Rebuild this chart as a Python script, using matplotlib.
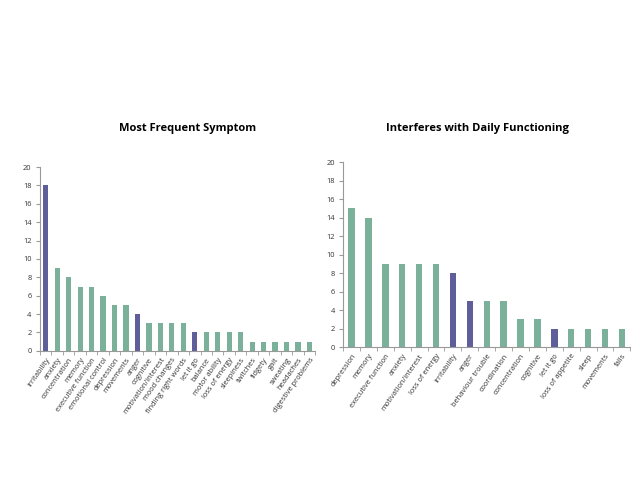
import matplotlib.pyplot as plt
import numpy as np

plt.rcParams['font.family'] = ['Open Sans', 'DejaVu Sans']

green = '#7bb09b'
purple = '#5f5e9a'

left_labels = ['irritability', 'anxiety', 'concentration', 'memory', 'executive function',
               'emotional control', 'depression', 'movements', 'anger', 'cognitive',
               'motivation/interest', 'mood changes', 'finding right words', 'let it go',
               'balance', 'motor ability', 'loss of energy', 'sleepiness', 'twitches',
               'fidgety', 'gait', 'sweating', 'headaches', 'digestive problems']
left_values = [18, 9, 8, 7, 7, 6, 5, 5, 4, 3, 3, 3, 3, 2, 2, 2, 2, 2, 1, 1, 1, 1, 1, 1]
left_purple = ['irritability', 'anger', 'let it go']

right_labels = ['depression', 'memory', 'executive function', 'anxiety', 'motivation/interest',
                'loss of energy', 'irritability', 'anger', 'behaviour trouble', 'coordination',
                'concentration', 'cognitive', 'let it go', 'loss of appetite', 'sleep',
                'movements', 'falls']
right_values = [15, 14, 9, 9, 9, 9, 8, 5, 5, 5, 3, 3, 2, 2, 2, 2, 2]
right_purple = ['irritability', 'anger', 'let it go']


def draw(ax, labels, values, highlight, width):
    x = np.arange(len(labels))
    colors = [purple if l in highlight else green for l in labels]
    ax.bar(x, values, width=width, color=colors)
    ax.set_xlim(-0.5, len(labels) - 0.5)
    ax.set_ylim(0, 20)
    ax.set_yticks(range(0, 21, 2))
    ax.set_xticks(x)
    ax.set_xticklabels(labels, rotation=55, ha='right', rotation_mode='anchor', fontsize=5.4, color='#333333')
    ax.set_xticks(np.arange(-0.5, len(labels), 1), minor=True)
    ax.tick_params(axis='x', which='major', length=0, pad=4)
    ax.tick_params(axis='x', which='minor', length=3, color='#999999')
    ax.tick_params(axis='y', labelsize=5.4, length=3, color='#999999', labelcolor='#333333', pad=3)
    for s in ['top', 'right']:
        ax.spines[s].set_visible(False)
    for s in ['left', 'bottom']:
        ax.spines[s].set_color('#999999')
        ax.spines[s].set_linewidth(0.8)


fig = plt.figure(figsize=(6.4, 4.8), dpi=100)
ax1 = fig.add_axes([0.0625, 0.269, 0.430, 0.383])
ax2 = fig.add_axes([0.536, 0.277, 0.449, 0.385])

draw(ax1, left_labels, left_values, left_purple, 0.45)
draw(ax2, right_labels, right_values, right_purple, 0.38)

fig.text(188 / 640, 1 - 129 / 480, 'Most Frequent Symptom', fontsize=8, fontweight='bold',
         ha='center', va='center')
fig.text(478 / 640, 1 - 129 / 480, 'Interferes with Daily Functioning', fontsize=8, fontweight='bold',
         ha='center', va='center')

plt.savefig('out.png', dpi=100)
